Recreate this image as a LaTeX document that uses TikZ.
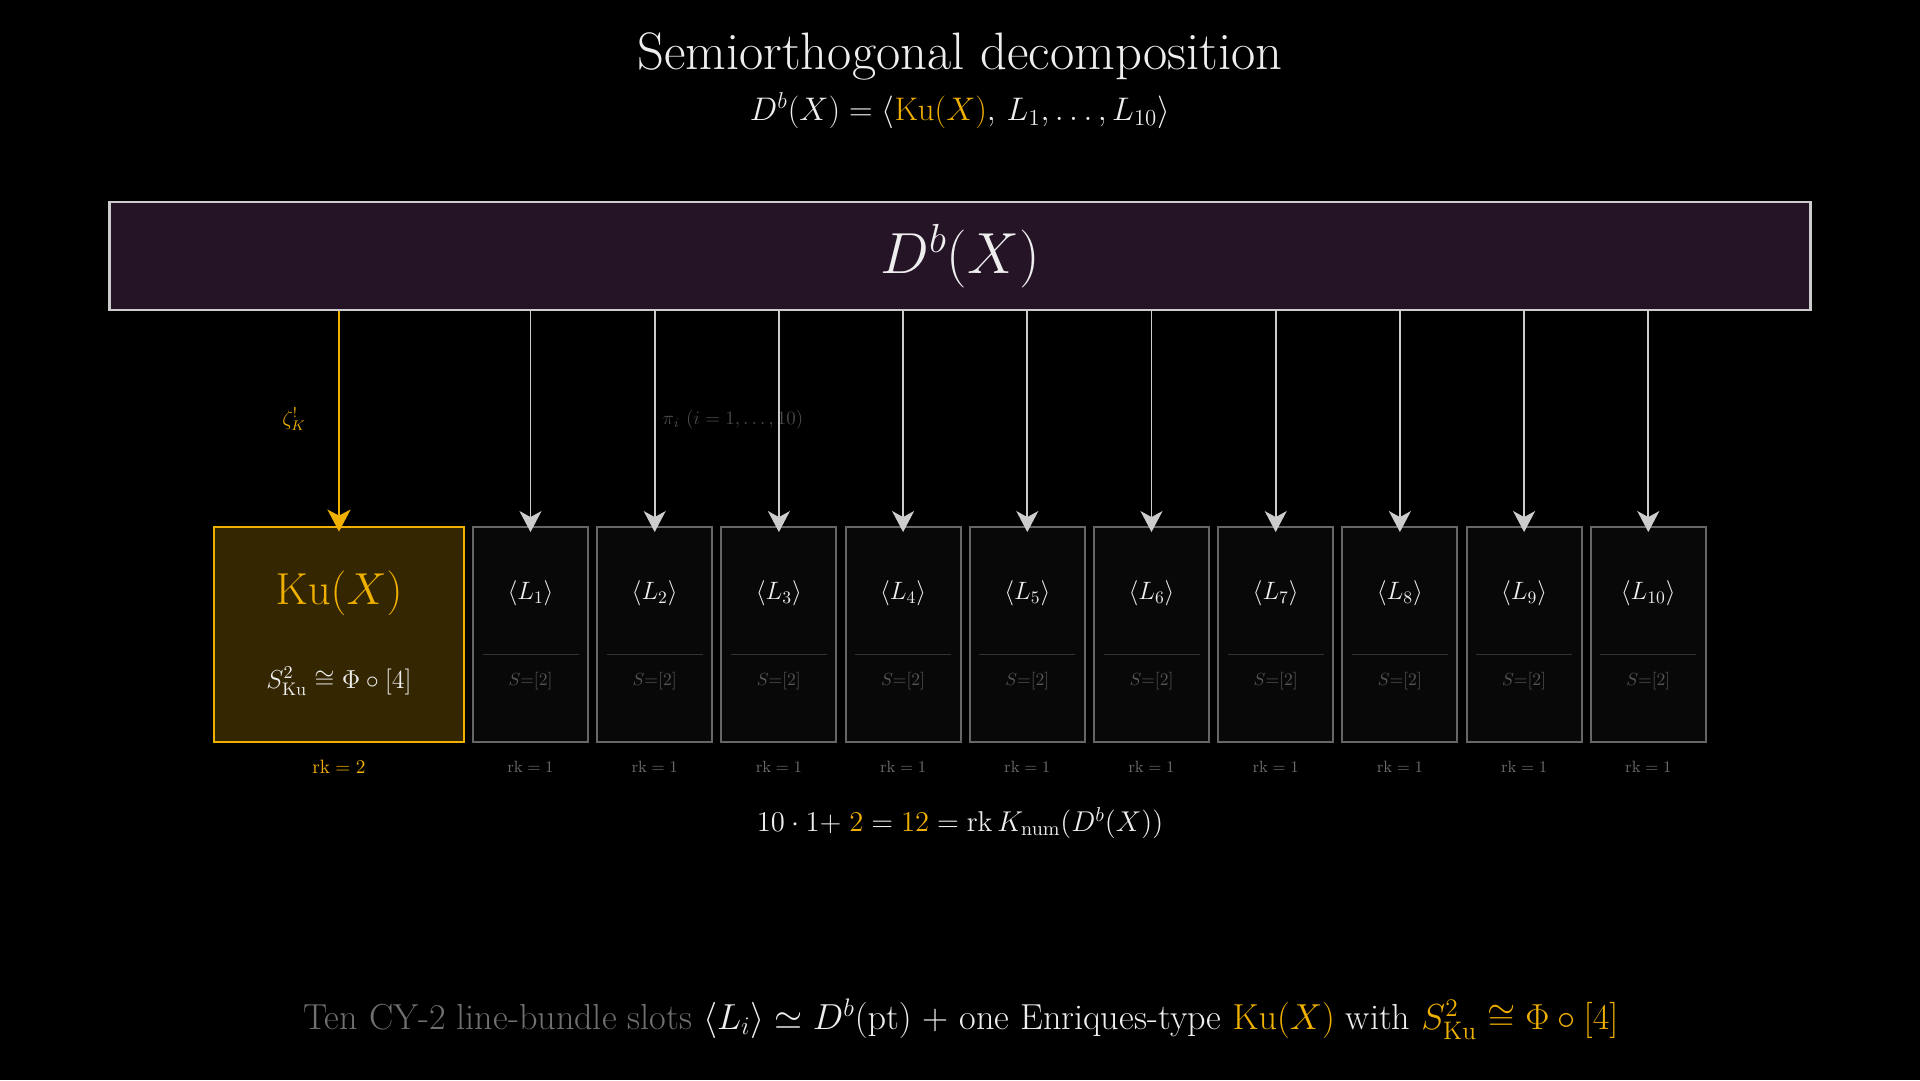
\RequirePackage{fix-cm}
\documentclass[tikz,border=0pt]{standalone}
\usepackage{amsmath}
\usetikzlibrary{arrows.meta}

\definecolor{kuorange}{HTML}{F0B000}
\definecolor{kufill}{HTML}{332600}
\definecolor{dbfill}{HTML}{251326}
\definecolor{boxline}{HTML}{CCCCCC}
\definecolor{lboxline}{HTML}{666666}
\definecolor{lfill}{HTML}{080808}
\definecolor{divline}{HTML}{333333}
\definecolor{txtwhite}{HTML}{EEEEEE}
\definecolor{serregray}{HTML}{555555}
\definecolor{rkgray}{HTML}{6A6A6A}
\definecolor{pigray}{HTML}{4A4A4A}
\definecolor{footgray}{HTML}{707070}

\tikzset{
  dbbox/.style={draw=boxline, line width=1.6pt, fill=dbfill, minimum width=34.04cm,
    minimum height=2.16cm, text=txtwhite, font=\fontsize{33}{40}\selectfont},
  kubox/.style={draw=kuorange, line width=1.6pt, fill=kufill, minimum width=5cm,
    minimum height=4.3cm},
  lbox/.style={draw=lboxline, line width=1.1pt, fill=lfill, minimum width=2.3cm,
    minimum height=4.3cm},
  divider/.style={divline, line width=0.5pt},
  lname/.style={text=txtwhite, font=\fontsize{14.3}{17}\selectfont},
  serre/.style={text=serregray, font=\fontsize{10}{12}\selectfont},
  rklabel/.style={text=rkgray, font=\fontsize{9.3}{11}\selectfont},
  grayarrow/.style={boxline, line width=1.1pt,
    -{Stealth[length=0.42cm, width=0.44cm, inset=0.12cm]}, shorten >=-0.12cm},
  kuarrow/.style={kuorange, line width=1.7pt,
    -{Stealth[length=0.44cm, width=0.46cm, inset=0.12cm]}, shorten >=-0.12cm},
}

\begin{document}
\begin{tikzpicture}[x=0.02cm, y=-0.02cm]
\useasboundingbox (0,0) rectangle (1920,1080);
\fill[black] (0,0) rectangle (1920,1080);

% heading
\node[text=txtwhite, font=\fontsize{30}{36}\selectfont] (title) at (960,56) {Semiorthogonal decomposition};
\node[text=txtwhite, font=\fontsize{18.6}{22}\selectfont] (subtitle) at (960,111)
  {$D^b(X) = \langle \textcolor{kuorange}{\mathrm{Ku}(X)},\, L_1,\ldots,L_{10}\rangle$};

% the whole category
\node[dbbox] (db) at (960,256) {$D^b(X)$};

% Kuznetsov component
\node[kubox] (ku) at (339,634.5) {};
\node[text=kuorange, font=\fontsize{25.5}{30}\selectfont] (kuname) at (339,593) {$\mathrm{Ku}(X)$};
\node[text=txtwhite, font=\fontsize{14.8}{18}\selectfont] (kuserre) at (339,681)
  {$S_{\mathrm{Ku}}^2 \cong \Phi\circ[4]$};
\node[text=kuorange, font=\fontsize{11}{13}\selectfont] (kurk) at (339,767) {$\mathrm{rk}=2$};
\node[text=kuorange, font=\fontsize{12}{14}\selectfont] (zeta) at (294,419) {$\zeta_K^{!}$};
\draw[kuarrow] (db.south -| ku.north) -- (ku.north);

\node[text=pigray, font=\fontsize{10.8}{13}\selectfont] (pilabel) at (733,420) {$\pi_i\ (i=1,\ldots,10)$};

% line bundle slots
\foreach \i in {1,...,10} {
 \pgfmathsetmacro{\xc}{530.5+124.2*(\i-1)}
 \node[lbox] (L\i) at (\xc,634.5) {};
 \node[lname] (Lname\i) at (\xc,593) {$\langle L_{\i}\rangle$};
 \draw[divider] (\xc-48,654) -- (\xc+48,654);
 \node[serre] (Lserre\i) at (\xc,681) {$S{=}[2]$};
 \node[rklabel] (Lrk\i) at (\xc,767) {$\mathrm{rk}=1$};
 \draw[grayarrow] (db.south -| L\i.north) -- (L\i.north);
}

% rank count
\node[text=txtwhite, font=\fontsize{16.3}{20}\selectfont] (rank) at (960,823)
  {$10\cdot 1{+}\;\textcolor{kuorange}{2} = \textcolor{kuorange}{12} = \mathrm{rk}\,K_{\mathrm{num}}(D^b(X))$};

% footer
\node[text=txtwhite, font=\fontsize{20.6}{25}\selectfont] (footer) at (961,1019)
  {\textcolor{footgray}{Ten CY-2 line-bundle slots} $\langle L_i\rangle \simeq D^b(\mathrm{pt})$ + one Enriques-type
   \textcolor{kuorange}{$\mathrm{Ku}(X)$} with \textcolor{kuorange}{$S_{\mathrm{Ku}}^2 \cong \Phi\circ[4]$}};
\end{tikzpicture}
\end{document}
